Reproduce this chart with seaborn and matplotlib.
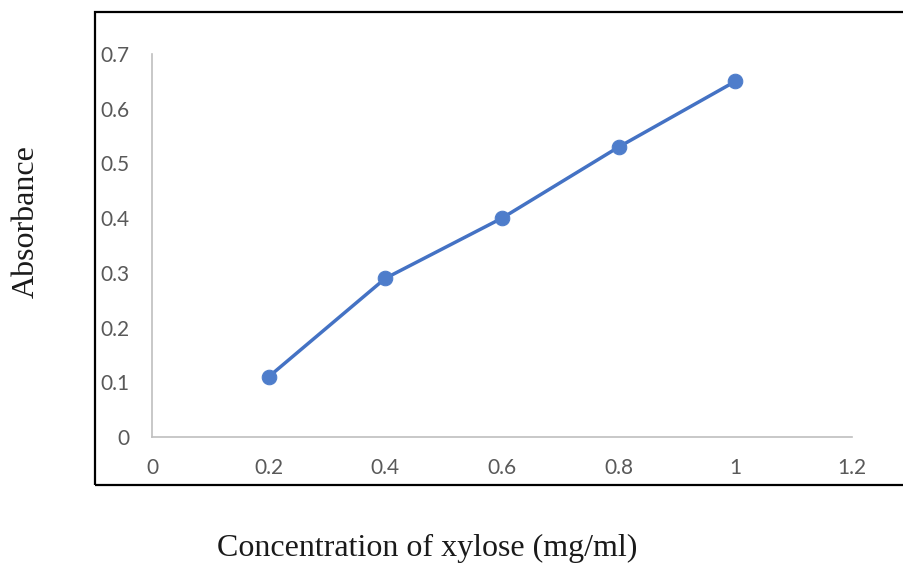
import matplotlib
matplotlib.use("Agg")
import matplotlib.pyplot as plt
from matplotlib.patches import Rectangle
import seaborn as sns
import pandas as pd

# Xylose standard curve
concentration = [0.2, 0.4, 0.6, 0.8, 1.0]
absorbance = [0.11, 0.29, 0.40, 0.53, 0.65]
x_ticks = [0, 0.2, 0.4, 0.6, 0.8, 1, 1.2]
x_tick_labels = ["0", "0.2", "0.4", "0.6", "0.8", "1", "1.2"]
y_ticks = [0, 0.1, 0.2, 0.3, 0.4, 0.5, 0.6, 0.7]
y_tick_labels = ["0", "0.1", "0.2", "0.3", "0.4", "0.5", "0.6", "0.7"]

df = pd.DataFrame({"conc": concentration, "abs": absorbance})

sns.set_style("white")
plt.rcParams["font.family"] = ["Lato", "DejaVu Sans"]

W, H = 904, 568
fig = plt.figure(figsize=(W / 100, H / 100), dpi=100)
ax = fig.add_axes([152 / W, (H - 437) / H, (852 - 152) / W, (437 - 54) / H])

sns.lineplot(data=df, x="conc", y="abs", ax=ax, color="#4472C4",
             linewidth=2.5, marker="o", markersize=10.5,
             markeredgecolor="#4E7DCB", markerfacecolor="#4E7DCB")

ax.set_xlim(0, 1.2)
ax.set_ylim(0, 0.7)
ax.set_xticks(x_ticks)
ax.set_xticklabels(x_tick_labels)
ax.set_yticks(y_ticks)
ax.set_yticklabels(y_tick_labels)
ax.tick_params(axis="both", length=0, labelsize=15, labelcolor="#595959")
ax.tick_params(axis="x", pad=15)
ax.tick_params(axis="y", pad=16)
ax.set_xlabel("")
ax.set_ylabel("")
for side in ["top", "right"]:
    ax.spines[side].set_visible(False)
for side in ["left", "bottom"]:
    ax.spines[side].set_color("#BFBFBF")
    ax.spines[side].set_linewidth(1.2)

# Outer frame around the chart area
frame = Rectangle((95 / W, (H - 485) / H), (W + 10 - 95) / W, (485 - 12) / H,
                  transform=fig.transFigure, fill=False, edgecolor="black",
                  linewidth=1.6, clip_on=False)
fig.patches.append(frame)

fig.text(427 / W, (H - 548) / H, "Concentration of xylose (mg/ml)",
         family="Liberation Serif", fontsize=23, ha="center", va="center",
         color="#1a1a1a")
fig.text(26 / W, (H - 222) / H, "Absorbance", family="Liberation Serif",
         fontsize=23, ha="center", va="center", rotation=90, color="#1a1a1a")

fig.savefig("out.png", dpi=100)
